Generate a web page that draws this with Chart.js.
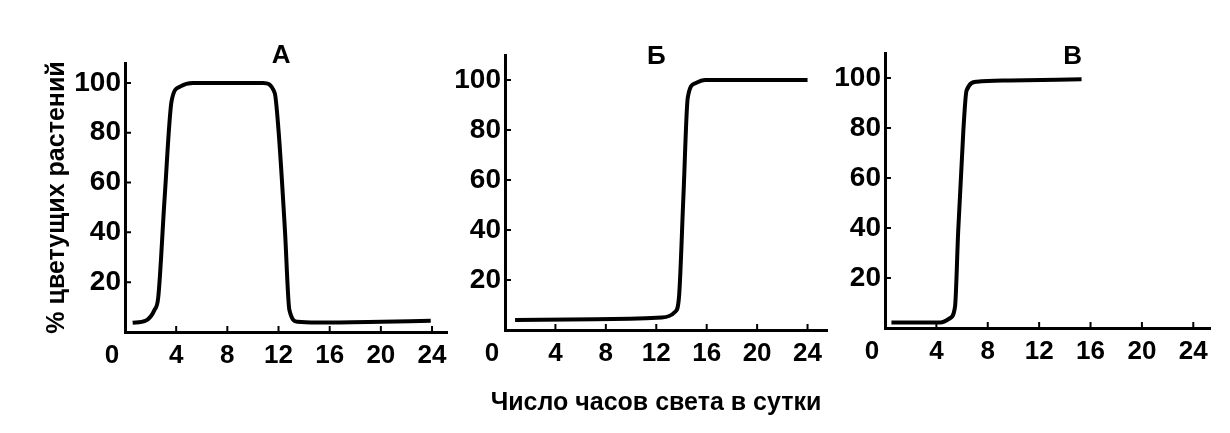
<!DOCTYPE html>
<html><head><meta charset="utf-8">
<script src="https://cdn.jsdelivr.net/npm/chart.js@4.4.1/dist/chart.umd.min.js"></script>
<style>
html,body{margin:0;padding:0;background:#fff;width:1230px;height:433px;overflow:hidden;}
canvas{position:absolute;top:0;}
#xtitle{position:absolute;left:456px;width:400px;top:386px;text-align:center;font:bold 25px "Liberation Sans",Arial,sans-serif;color:#000;line-height:30px;white-space:nowrap;}
</style></head><body>
<canvas id="cA" width="460" height="433" style="left:0px"></canvas>
<canvas id="cB" width="390" height="433" style="left:440px"></canvas>
<canvas id="cC" width="400" height="433" style="left:830px"></canvas>
<div id="xtitle">Число часов света в сутки</div>
<script>
// ---- data ----
const panelTitles = ['А', 'Б', 'В'];
const yAxisTitle = '% цветущих растений';
const xTickValues = [0, 4, 8, 12, 16, 20, 24];
const yTickValues = [20, 40, 60, 80, 100];

const hoursA  = [0.6, 1.6, 2.3, 2.6, 3.1, 3.65, 4.3, 5.3, 8.4, 10.8, 11.7, 12.0, 12.5, 12.85, 13.5, 15, 19, 23.9];
const flowerA = [3.7, 4.5, 8.8, 14, 54, 93, 98.5, 100, 100, 100, 96, 81, 41, 8.8, 4.1, 3.8, 4, 4.5];

const hoursB  = [0.8, 7.2, 12.45, 13.5, 13.8, 14.15, 14.5, 15.1, 15.9, 21, 24];
const flowerB = [4, 4.3, 5, 7.3, 13, 53, 93, 98.7, 100, 100, 100];

const hoursV  = [0.5, 4.3, 5.05, 5.45, 5.7, 6.1, 6.35, 7.15, 9.7, 15.3];
const flowerV = [2.2, 2.2, 3.9, 8.5, 39, 79, 95, 98.5, 99, 99.5];

// ---- layout ----
const FONT = '"Liberation Sans", Arial, sans-serif';
const panels = [
  {id:'cA', hours:hoursA, vals:flowerA, title:panelTitles[0], yW:125, padTop:63, padRight:13, xH:101, xMax:25.17, yMax:108, titleAt:12.2, titleY:56, yTitle:true},
  {id:'cB', hours:hoursB, vals:flowerB, title:panelTitles[1], yW:65,  padTop:55, padRight:0,  xH:103, xMax:25.57, yMax:110, titleAt:12.0, titleY:57, yTitle:false},
  {id:'cC', hours:hoursV, vals:flowerV, title:panelTitles[2], yW:55,  padTop:53, padRight:20, xH:105, xMax:25.3,  yMax:110, titleAt:14.6, titleY:57, yTitle:false}
];

const innerTicks = {
  id:'innerTicks',
  afterDraw(chart, args, opts){
    const ctx = chart.ctx, xs = chart.scales.x, ys = chart.scales.y, a = chart.chartArea;
    ctx.save();
    ctx.strokeStyle = '#000'; ctx.lineWidth = 2;
    ctx.beginPath();
    yTickValues.forEach(v => { const p = ys.getPixelForValue(v); ctx.moveTo(a.left, p); ctx.lineTo(a.left + 6, p); });
    xTickValues.filter(v => v > 0).forEach(v => { const p = xs.getPixelForValue(v); ctx.moveTo(p, a.bottom); ctx.lineTo(p, a.bottom - 6); });
    ctx.stroke();
    // panel letter
    ctx.fillStyle = '#000';
    ctx.font = 'bold 26px ' + FONT;
    ctx.textAlign = 'center'; ctx.textBaseline = 'middle';
    ctx.fillText(opts.text, xs.getPixelForValue(opts.at), opts.y);
    ctx.restore();
  }
};

panels.forEach(p => {
  new Chart(document.getElementById(p.id), {
    type: 'line',
    data: { datasets: [{
      data: p.hours.map((h, i) => ({x: h, y: p.vals[i]})),
      borderColor: '#000', borderWidth: 4, pointRadius: 0,
      cubicInterpolationMode: 'monotone', fill: false
    }]},
    options: {
      responsive: false, animation: false, devicePixelRatio: 1,
      layout: { padding: { top: p.padTop, right: p.padRight, left: 0, bottom: 0 } },
      plugins: { legend: {display:false}, tooltip: {enabled:false}, title: {display:false},
                 innerTicks: { text: p.title, at: p.titleAt, y: p.titleY } },
      scales: {
        x: { type:'linear', min:0, max:p.xMax,
             afterFit(s){ s.height = p.xH; },
             afterBuildTicks(s){ s.ticks = xTickValues.map(v => ({value:v})); },
             grid: { display:false, drawTicks:false },
             border: { display:true, color:'#000', width:3 },
             ticks: { color:'#000', padding:8, maxRotation:0, autoSkip:false,
                      font:{ family:FONT, size:26, weight:'bold' },
                      callback: v => v === 0 ? '0\u2002\u2002' : String(v) } },
        y: { min:0, max:p.yMax,
             afterFit(s){ s.width = p.yW; },
             afterBuildTicks(s){ s.ticks = yTickValues.map(v => ({value:v})); },
             grid: { display:false, drawTicks:false },
             border: { display:true, color:'#000', width:3 },
             ticks: { color:'#000', padding:4, autoSkip:false,
                      font:{ family:FONT, size:28, weight:'bold' } },
             title: { display:p.yTitle, text:yAxisTitle, color:'#000',
                      font:{ family:FONT, size:25, weight:'bold' }, padding:{top:42, bottom:0} } }
      }
    },
    plugins: [innerTicks]
  });
});
</script>
</body></html>
